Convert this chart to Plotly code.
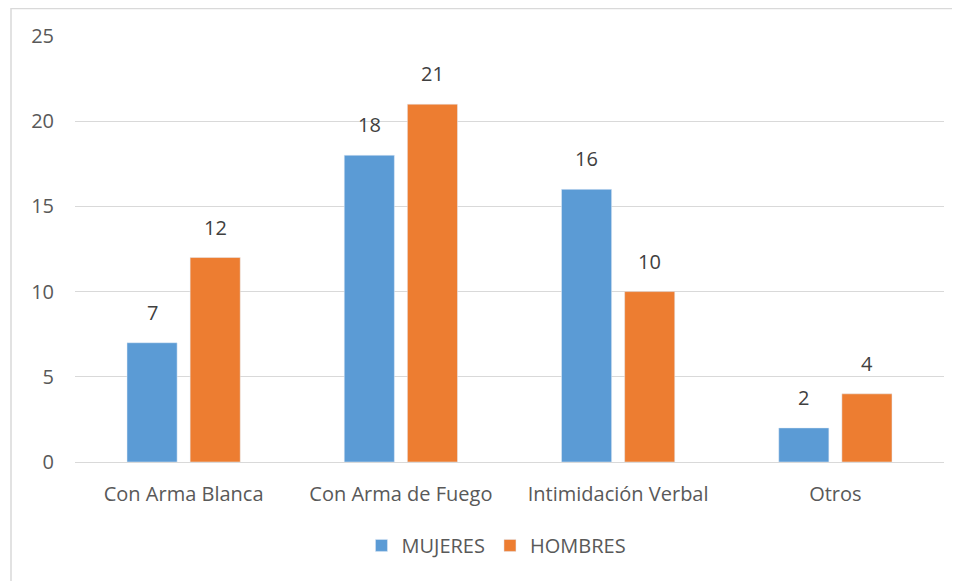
import plotly.graph_objects as go

categories = ["Con Arma Blanca", "Con Arma de Fuego", "Intimidación Verbal", "Otros"]
mujeres = [7, 18, 16, 2]
hombres = [12, 21, 10, 4]
y_ticks = [0, 5, 10, 15, 20, 25]

FONT = "Open Sans, Noto Sans, sans-serif"
SIZE = 20

fig = go.Figure()
fig.add_trace(go.Bar(x=categories, y=mujeres, name="MUJERES", marker=dict(color="#5B9BD5")))
fig.add_trace(go.Bar(x=categories, y=hombres, name="HOMBRES", marker=dict(color="#ED7D31")))

# value labels above bars (annotations so the offset can match)
annotations = []
for series, shift in ((mujeres, -31.5), (hombres, 31.5)):
    for cat, val in zip(categories, series):
        annotations.append(dict(
            x=cat, y=val, text=str(val), showarrow=False,
            xshift=shift, yshift=15, yanchor="bottom",
            font=dict(color="#404040", size=SIZE, family=FONT),
        ))

fig.update_layout(
    width=952, height=573,
    margin=dict(l=67, r=16, t=28, b=119, pad=0),
    paper_bgcolor="white", plot_bgcolor="white",
    font=dict(family=FONT, color="#595959", size=SIZE),
    barmode="group", bargap=0.419, bargroupgap=0.206,
    showlegend=True,
    legend=dict(
        orientation="h", x=0.485, xanchor="center", y=-0.15, yanchor="top",
        font=dict(size=SIZE, color="#595959"), itemwidth=30,
        traceorder="normal",
    ),
    xaxis=dict(
        showgrid=False, showline=True, linecolor="#d9d9d9", linewidth=1,
        ticks="", tickfont=dict(size=SIZE), ticklabelstandoff=14,
    ),
    yaxis=dict(
        range=[0, 25], tickvals=y_ticks, showgrid=True, gridcolor="#d9d9d9",
        gridwidth=1, zeroline=False, showline=False, ticks="",
        tickfont=dict(size=SIZE), ticklabelstandoff=20,
    ),
    annotations=annotations,
    shapes=[dict(
        type="rect", xref="paper", yref="paper",
        x0=-64 / 869, x1=1.2, y0=-0.5, y1=453.5 / 426,
        line=dict(color="#d9d9d9", width=1.5), layer="below",
    )],
)

fig.write_html("out.html")
